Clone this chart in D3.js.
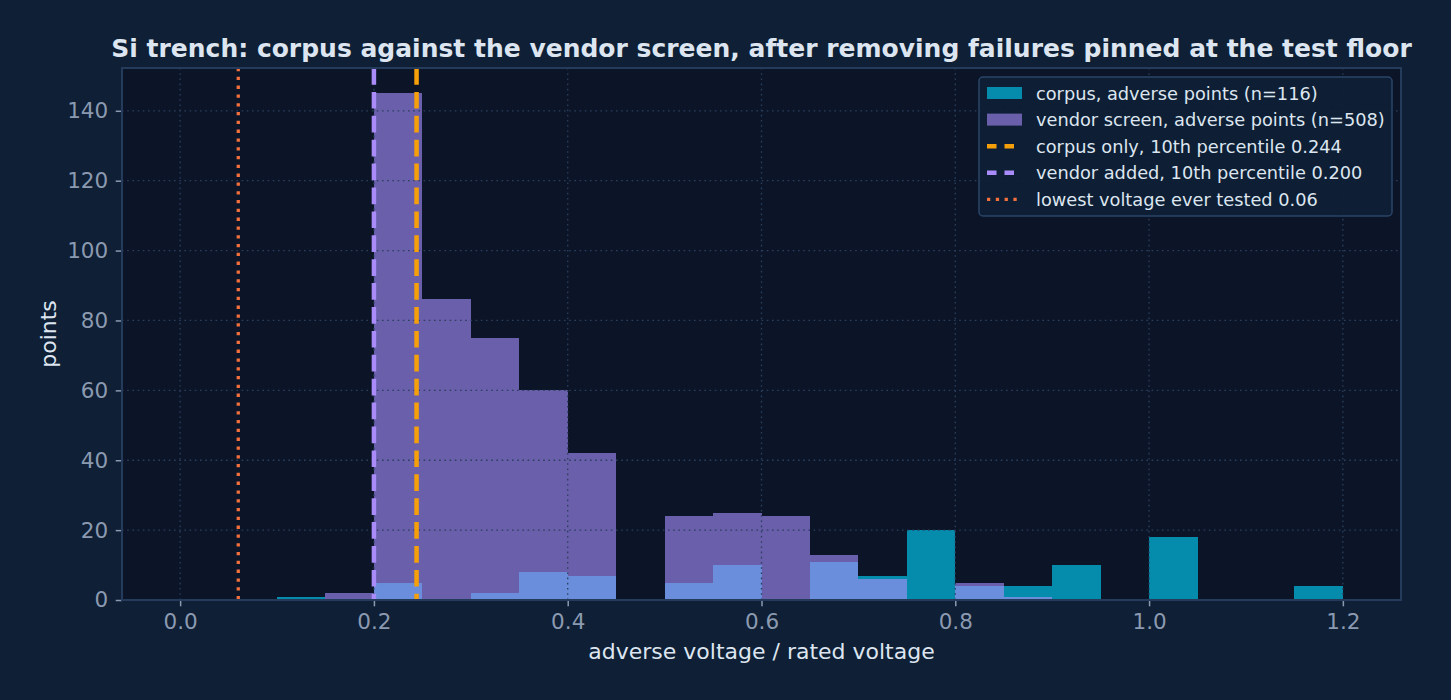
<!DOCTYPE html>
<html>
<head>
<meta charset="utf-8">
<script src="https://cdn.jsdelivr.net/npm/d3@7"></script>
<style>
  body { margin: 0; background: #0f1f35; }
  text { font-family: "DejaVu Sans", sans-serif; }
</style>
</head>
<body>
<script>
// histogram bins, 0.05 wide
var binLeft = [0.10, 0.15, 0.20, 0.25, 0.30, 0.35, 0.40, 0.45, 0.50, 0.55, 0.60,
               0.65, 0.70, 0.75, 0.80, 0.85, 0.90, 0.95, 1.00, 1.05, 1.10, 1.15];
var binWidth = 0.05;
var corpusCounts = [1, 0, 5, 0, 2, 8, 7, 0, 5, 10, 0, 11, 7, 20, 4, 4, 10, 0, 18, 0, 0, 4];
var vendorCounts = [0, 2, 145, 86, 75, 60, 42, 0, 24, 25, 24, 13, 6, 0, 5, 1, 0, 0, 0, 0, 0, 0];

var xTicks = [0.0, 0.2, 0.4, 0.6, 0.8, 1.0, 1.2];
var yTicks = [0, 20, 40, 60, 80, 100, 120, 140];

var corpusP10 = 0.244;
var vendorP10 = 0.200;
var floorVoltage = 0.06;

var legendLabels = [
    "corpus, adverse points (n=116)",
    "vendor screen, adverse points (n=508)",
    "corpus only, 10th percentile 0.244",
    "vendor added, 10th percentile 0.200",
    "lowest voltage ever tested 0.06"
];

var W = 1451, H = 700;
var margin = {top: 68, right: 50, bottom: 100, left: 122};

var teal = "#058bac", purple = "#6a5fab", overlap = "#6a8edc";
var orange = "#f5a00a", lavender = "#a98bfa", coral = "#f2703e";

var svg = d3.select("body").append("svg")
    .attr("width", W)
    .attr("height", H);

svg.append("rect").attr("width", W).attr("height", H).attr("fill", "#0f1f35");

var x = d3.scaleLinear().domain([-0.06, 1.26]).range([margin.left, W - margin.right]);
var y = d3.scaleLinear().domain([0, 152.25]).range([H - margin.bottom, margin.top]);

// plot background
svg.append("rect")
    .attr("x", x.range()[0]).attr("y", y.range()[1])
    .attr("width", x.range()[1] - x.range()[0])
    .attr("height", y.range()[0] - y.range()[1])
    .attr("fill", "#0b1527");

var bins = binLeft.map(function(b, i) {
    return {x0: b, x1: b + binWidth, c: corpusCounts[i], v: vendorCounts[i]};
});

function bars(key, color) {
    svg.append("g").selectAll("rect")
        .data(bins.filter(function(d) { return key(d) > 0; }))
        .enter().append("rect")
        .attr("x", function(d) { return x(d.x0); })
        .attr("width", function(d) { return x(d.x1) - x(d.x0); })
        .attr("y", function(d) { return y(key(d)); })
        .attr("height", function(d) { return y(0) - y(key(d)); })
        .attr("fill", color)
        .attr("shape-rendering", "crispEdges");
}
bars(function(d) { return d.c; }, teal);
bars(function(d) { return d.v; }, purple);
bars(function(d) { return Math.min(d.c, d.v); }, overlap);   // where the two overlap

// grid on top of bars
var grid = svg.append("g")
    .attr("stroke", "#2b3f5e")
    .attr("stroke-width", 1.3)
    .attr("stroke-dasharray", "1.6,3.6");
grid.selectAll(".gx").data(xTicks).enter().append("line")
    .attr("x1", function(d) { return x(d); }).attr("x2", function(d) { return x(d); })
    .attr("y1", y.range()[0]).attr("y2", y.range()[1]);
grid.selectAll(".gy").data(yTicks).enter().append("line")
    .attr("y1", function(d) { return y(d); }).attr("y2", function(d) { return y(d); })
    .attr("x1", x.range()[0]).attr("x2", x.range()[1]);

// reference lines
function vline(v, color, dash, w) {
    svg.append("line")
        .attr("x1", x(v)).attr("x2", x(v))
        .attr("y1", y.range()[1]).attr("y2", y.range()[0])
        .attr("stroke", color)
        .attr("stroke-width", w)
        .attr("stroke-dasharray", dash);
}
vline(corpusP10, orange, "16.7,7.2", 4.5);
vline(vendorP10, lavender, "16.7,7.2", 4.5);
vline(floorVoltage, coral, "3.3,5.5", 3.3);

// axes
var xAxis = svg.append("g")
    .attr("transform", "translate(0," + y.range()[0] + ")")
    .call(d3.axisBottom(x).tickValues(xTicks).tickFormat(d3.format(".1f")).tickSize(6.3).tickPadding(7));
var yAxis = svg.append("g")
    .attr("transform", "translate(" + x.range()[0] + ",0)")
    .call(d3.axisLeft(y).tickValues(yTicks).tickSize(6.3).tickPadding(7.5));

[xAxis, yAxis].forEach(function(a) {
    a.select(".domain").remove();
    a.selectAll(".tick line").attr("stroke", "#8b9ab0").attr("stroke-width", 1.5);
    a.selectAll(".tick text")
        .attr("fill", "#8b9ab0")
        .style("font-size", "21.5px")
        .style("font-family", "DejaVu Sans");
});

// spines
svg.append("rect")
    .attr("x", x.range()[0]).attr("y", y.range()[1])
    .attr("width", x.range()[1] - x.range()[0])
    .attr("height", y.range()[0] - y.range()[1])
    .attr("fill", "none")
    .attr("stroke", "#243b5c")
    .attr("stroke-width", 2);

// titles
svg.append("text")
    .attr("x", (x.range()[0] + x.range()[1]) / 2)
    .attr("y", 57)
    .attr("text-anchor", "middle")
    .attr("fill", "#dde6f0")
    .style("font-size", "25px")
    .style("font-weight", "bold")
    .text("Si trench: corpus against the vendor screen, after removing failures pinned at the test floor");

svg.append("text")
    .attr("x", (x.range()[0] + x.range()[1]) / 2)
    .attr("y", 659)
    .attr("text-anchor", "middle")
    .attr("fill", "#dde6f0")
    .style("font-size", "22px")
    .text("adverse voltage / rated voltage");

svg.append("text")
    .attr("transform", "translate(56," + ((y.range()[0] + y.range()[1]) / 2) + ") rotate(-90)")
    .attr("text-anchor", "middle")
    .attr("fill", "#dde6f0")
    .style("font-size", "22px")
    .text("points");

// legend
var legend = svg.append("g").attr("transform", "translate(979,77)");
legend.append("rect")
    .attr("width", 413).attr("height", 139)
    .attr("rx", 4)
    .attr("fill", "#0f1f35")
    .attr("fill-opacity", 0.92)
    .attr("stroke", "#2a4568")
    .attr("stroke-width", 1.5);

var handles = [
    {type: "patch", color: teal},
    {type: "patch", color: purple},
    {type: "line", color: orange, dash: "9.5,8", w: 4.5},
    {type: "line", color: lavender, dash: "9.5,8", w: 4.5},
    {type: "line", color: coral, dash: "3.3,5.5", w: 3.3}
];
var rows = legend.selectAll(".row").data(legendLabels).enter().append("g")
    .attr("transform", function(d, i) { return "translate(0," + (16 + i * 26.6) + ")"; });
rows.each(function(d, i) {
    var g = d3.select(this), h = handles[i];
    if (h.type === "patch") {
        g.append("rect").attr("x", 8).attr("y", -6).attr("width", 35).attr("height", 12).attr("fill", h.color);
    } else {
        g.append("line").attr("x1", 8).attr("x2", 43).attr("y1", 0).attr("y2", 0)
            .attr("stroke", h.color).attr("stroke-width", h.w).attr("stroke-dasharray", h.dash);
    }
    g.append("text")
        .attr("x", 57).attr("y", 6.5)
        .attr("fill", "#dde6f0")
        .style("font-size", "17.75px")
        .text(d);
});
</script>
</body>
</html>
